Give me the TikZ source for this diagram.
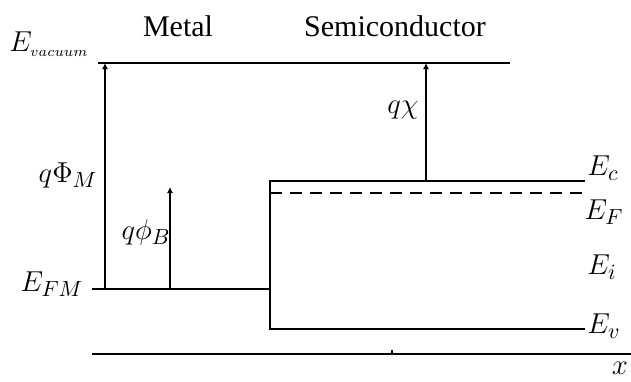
\documentclass[tikz,border=0pt]{standalone}
\usepackage{fontspec}
\setmainfont{Liberation Serif}
\usetikzlibrary{arrows.meta}

\begin{document}
\begin{tikzpicture}[x=0.5pt, y=-0.5pt,
    level/.style={line width=0.9pt},
    gap/.style={line width=0.8pt, -{Latex[length=3pt,width=3pt]}},
    lbl/.style={font=\fontsize{15}{17}\selectfont, inner sep=0pt}]
    \useasboundingbox (0,0) rectangle (631,381);

    % level end points
    \coordinate (vac_l) at (98,63);
    \coordinate (vac_r) at (510,63);
    \coordinate (efm_l) at (92,289);
    \coordinate (efm_r) at (270,289);
    \coordinate (ec_l) at (270,181);
    \coordinate (ec_r) at (585,181);
    \coordinate (ef_l) at (270,193);
    \coordinate (ef_r) at (585,193);
    \coordinate (ev_l) at (270,329);
    \coordinate (ev_r) at (585,329);
    \coordinate (ax_l) at (92,354);
    \coordinate (ax_r) at (631,354);
    \coordinate (tick) at (392,354);
    \coordinate (tick_top) at (392,350);

    % arrow feet and heads
    \coordinate (phim_0) at (105,289);
    \coordinate (phim_1) at (105,63);
    \coordinate (phib_0) at (170,289);
    \coordinate (phib_1) at (170,187);
    \coordinate (chi_0) at (426,181);
    \coordinate (chi_1) at (426,63);

    \node (metal) [lbl] at (178,26) {Metal};
    \node (semi) [lbl] at (395,26) {Semiconductor};
    \node (evac) [lbl] at (49,44) {$E_{\scriptscriptstyle vacuum}$};
    \node (efm) [lbl] at (52,284) {$E_{FM}$};
    \node (qphim) [lbl] at (68,175) {$q\Phi_M$};
    \node (qphib) [lbl] at (146,232) {$q\phi_B$};
    \node (qchi) [lbl] at (403,110) {$q\chi$};
    \node (ec) [lbl] at (603,168) {$E_c$};
    \node (ef) [lbl] at (604,212) {$E_F$};
    \node (ei) [lbl] at (602,267) {$E_i$};
    \node (ev) [lbl] at (604,326) {$E_v$};
    \node (xlbl) [lbl, anchor=north] at (620,362) {$x$};

    \draw [level] (vac_l) -- (vac_r);
    \draw [level] (efm_l) -- (efm_r);
    \draw [level] (ev_r) -- (ev_l) -- (ec_l) -- (ec_r);
    \draw [level, dashed, dash pattern=on 6pt off 4pt] (ef_l) -- (ef_r);
    \draw [level] (ax_l) -- (ax_r);
    \draw [line width=0.6pt] (tick) -- (tick_top);

    \draw [gap] (phim_0) -- (phim_1);
    \draw [gap] (phib_0) -- (phib_1);
    \draw [gap] (chi_0) -- (chi_1);
\end{tikzpicture}
\end{document}
